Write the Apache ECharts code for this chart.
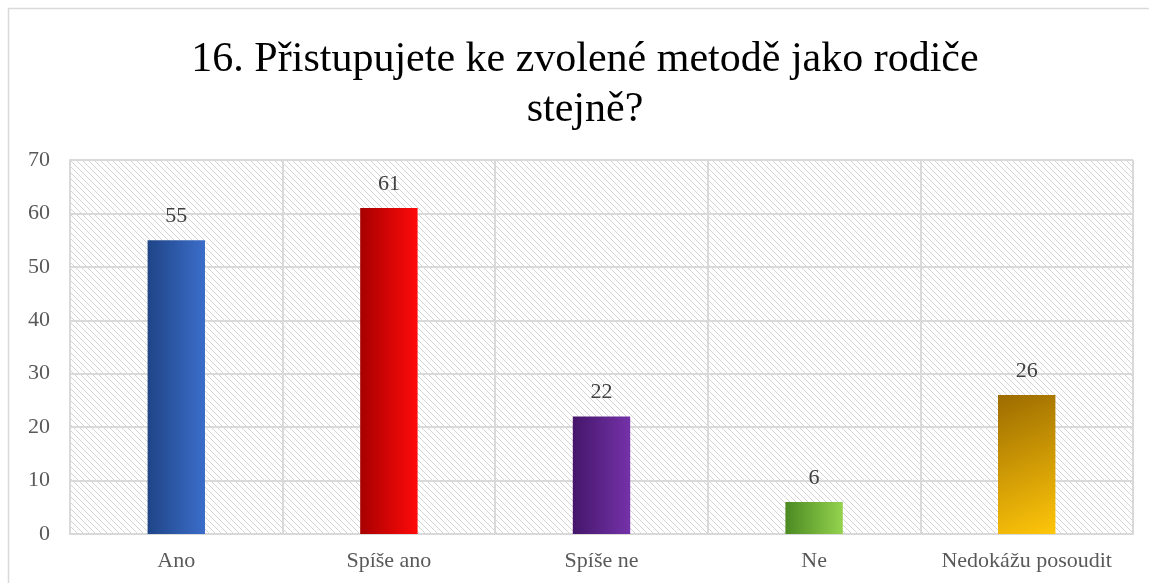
<!DOCTYPE html>
<html>
<head>
<meta charset="utf-8">
<script src="https://cdn.jsdelivr.net/npm/echarts@6/dist/echarts.min.js"></script>
<style>
  html, body { margin: 0; padding: 0; background: #fff; }
  #main { width: 1149px; height: 583px; }
</style>
</head>
<body>
<div id="main"></div>
<script>
const categories = ["Ano", "Spíše ano", "Spíše ne", "Ne", "Nedokážu posoudit"];
const values = [55, 61, 22, 6, 26];
// dark -> light for each bar
const barColors = [
  ["#1f4587", "#3b6dc9"],
  ["#a80000", "#ff0a0a"],
  ["#45166b", "#7432a8"],
  ["#4b8a22", "#94d24e"],
  ["#9c6c00", "#ffc60a"],
];
const serif = "Liberation Serif";

// hatched background for the plot area
function makeHatch() {
  const c = document.createElement("canvas");
  c.width = 6;
  c.height = 6;
  const ctx = c.getContext("2d");
  ctx.fillStyle = "#ffffff";
  ctx.fillRect(0, 0, 6, 6);
  ctx.strokeStyle = "#d4d4d4";
  ctx.lineWidth = 1;
  ctx.beginPath();
  ctx.moveTo(-1, -1); ctx.lineTo(7, 7);
  ctx.moveTo(-7, -1); ctx.lineTo(1, 7);
  ctx.moveTo(5, -1); ctx.lineTo(13, 7);
  ctx.stroke();
  return c;
}

let chart = echarts.init(document.getElementById("main"));

let barData = [];
for (let i = 0; i < values.length; i++) {
  let last = i === values.length - 1;
  barData.push({
    value: values[i],
    itemStyle: {
      color: new echarts.graphic.LinearGradient(0, 0, 1, last ? 1 : 0, [
        { offset: 0, color: barColors[i][0] },
        { offset: 1, color: barColors[i][1] },
      ]),
    },
  });
}

let option = {
  animation: false,
  title: {
    text: "16. Přistupujete ke zvolené metodě jako rodiče\nstejně?",
    left: 580,
    textAlign: "center",
    top: 30,
    textStyle: {
      fontFamily: serif,
      fontSize: 42,
      fontWeight: "normal",
      color: "#000",
      lineHeight: 50,
    },
  },
  graphic: [
    {
      type: "rect",
      shape: { x: 8.5, y: 8.5, width: 1160, height: 600 },
      style: { fill: null, stroke: "#d9d9d9", lineWidth: 1.5 },
      silent: true,
    },
  ],
  grid: {
    left: 70,
    right: 16,
    top: 160,
    bottom: 49,
    show: true,
    borderWidth: 0,
    backgroundColor: { image: makeHatch(), repeat: "repeat" },
  },
  xAxis: {
    type: "category",
    data: categories,
    axisLine: { lineStyle: { color: "#d9d9d9", width: 2 } },
    axisTick: { show: false },
    splitLine: { show: true, lineStyle: { color: "#d9d9d9", width: 2 } },
    axisLabel: {
      interval: 0,
      fontFamily: serif,
      fontSize: 22,
      color: "#595959",
      margin: 16,
    },
  },
  yAxis: {
    type: "value",
    min: 0,
    max: 70,
    interval: 10,
    axisLine: { show: true, lineStyle: { color: "#d9d9d9", width: 2 } },
    axisTick: { show: false },
    splitLine: { lineStyle: { color: "#d9d9d9", width: 2 } },
    axisLabel: {
      fontFamily: serif,
      fontSize: 22,
      color: "#595959",
      margin: 20,
    },
  },
  series: [
    {
      type: "bar",
      barWidth: "27%",
      data: barData,
      label: {
        show: true,
        position: "top",
        distance: 13,
        fontFamily: serif,
        fontSize: 22,
        color: "#404040",
      },
    },
  ],
};
chart.setOption(option);
</script>
</body>
</html>
